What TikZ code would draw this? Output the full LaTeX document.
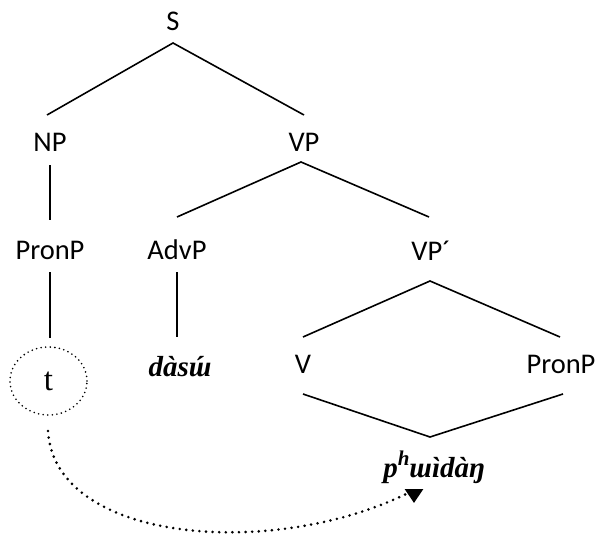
\documentclass[tikz,border=0pt]{standalone}
\usepackage{fontspec}
\setmainfont{Carlito}
\newfontfamily\serfont{Liberation Serif}
\usetikzlibrary{shapes.geometric,arrows.meta}
\newcommand{\acuteover}[1]{{\ooalign{#1\cr\hidewidth\kern-0.12em\char"00B4\hidewidth\cr}}}
\begin{document}
\begin{tikzpicture}[x=1pt,y=-1pt,
  lbl/.style={font=\fontsize{28.5}{31}\selectfont, inner sep=0pt},
  word/.style={font=\serfont\bfseries\itshape\fontsize{29}{32}\selectfont, inner sep=0pt},
  edge/.style={line width=1.6pt},
  trace/.style={ellipse, draw, line width=1.8pt, dash pattern=on 0pt off 4.6pt, line cap=round,
     minimum width=77pt, minimum height=68pt, inner sep=0pt,
     font=\serfont\fontsize{33}{36}\selectfont},
  move/.style={line width=2.9pt, dash pattern=on 0pt off 6.6pt, line cap=round,
     -{Triangle[width=18pt,length=14pt,line cap=butt]}}]
\useasboundingbox (0,0) rectangle (600,535);
% labels
\node[lbl] (S) at (173,21) {S};
\node[lbl] (NP) at (50,142) {NP};
\node[lbl] (VP) at (304,142) {VP};
\node[lbl] (PronL) at (50,250) {PronP};
\node[lbl] (AdvP) at (177,250) {AdvP};
\node[lbl] (VPb) at (431,251) {VP\char"00B4};
\node[lbl] (V) at (303,364) {V};
\node[lbl] (PronR) at (561,364) {PronP};
\node[word] (adv) at (180,367) {dàs\acuteover{ɯ}};
\node[word] (verb) at (434,467) {p\raisebox{0.42em}{\fontsize{21}{22}\selectfont h}ɯìdàŋ};
\node[trace] (t) at (48.5,381) {t};
% line ends
\coordinate (Sb) at (173,43);
\coordinate (NPt) at (47,115);
\coordinate (VPt) at (304,115);
\coordinate (NPb) at (50,165);
\coordinate (PLt) at (50,220);
\coordinate (VPbot) at (301,162);
\coordinate (AdvPt) at (177,217);
\coordinate (VPbt) at (429,217);
\coordinate (PLb) at (50,272);
\coordinate (tt) at (50,338);
\coordinate (AdvPb) at (177,272);
\coordinate (advt) at (177,337);
\coordinate (VPbb) at (430,281);
\coordinate (Vt) at (303,337);
\coordinate (PRt) at (560,337);
\coordinate (Vb) at (303,394);
\coordinate (PRb) at (563,394);
\coordinate (verbt) at (430,437);
\coordinate (mvend) at (414,490);
\coordinate (mvtip) at (414,503);
% tree
\draw[edge] (NPt) -- (Sb) -- (VPt);
\draw[edge] (NPb) -- (PLt);
\draw[edge] (AdvPt) -- (VPbot) -- (VPbt);
\draw[edge] (PLb) -- (tt);
\draw[edge] (AdvPb) -- (advt);
\draw[edge] (Vt) -- (VPbb) -- (PRt);
\draw[edge] (Vb) -- (verbt) -- (PRb);
% movement
\draw[move] (48,431) .. controls (55,545) and (280,560) .. (mvend) -- (mvtip);
\end{tikzpicture}
\end{document}
